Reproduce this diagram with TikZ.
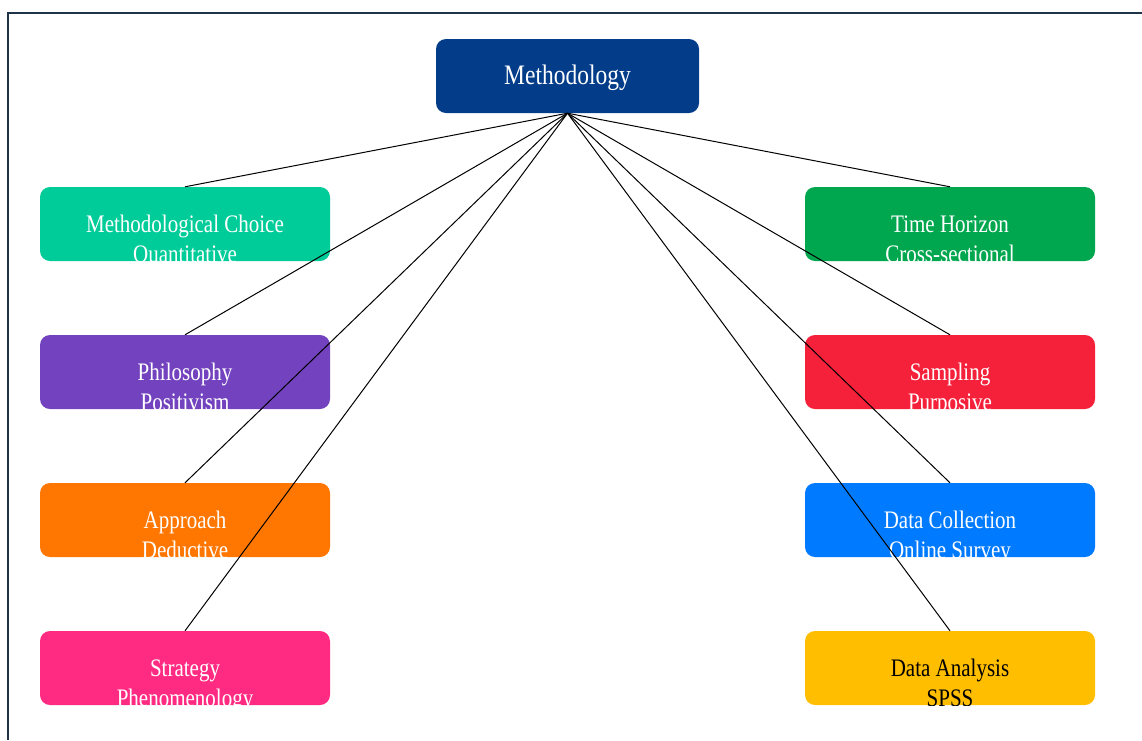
\documentclass[tikz,border=0pt]{standalone}
\usepackage{fontspec}
\setmainfont{Liberation Serif}

\definecolor{frameblue}{HTML}{1F3349}
\definecolor{methblue}{HTML}{033C89}
\definecolor{choiceteal}{HTML}{00CC99}
\definecolor{philpurple}{HTML}{7342BE}
\definecolor{apporange}{HTML}{FF7700}
\definecolor{stratpink}{HTML}{FF2A82}
\definecolor{timegreen}{HTML}{00A74E}
\definecolor{samplered}{HTML}{F5203A}
\definecolor{collectblue}{HTML}{007BFF}
\definecolor{analysisyellow}{HTML}{FFBE00}

% text a little taller than wide, as in the screenshot
\newcommand{\tall}[1]{\scalebox{1}[1.2]{#1}}

\tikzset{
  box/.style={rounded corners=10pt, minimum width=290pt, minimum height=74pt, inner sep=0pt},
  boxtext/.style n args={3}{path picture={
    \node[text=#3, anchor=base, font=\fontsize{21}{25}\selectfont]
      at ([yshift=-8pt]path picture bounding box.center) {\tall{#1}};
    \node[text=#3, anchor=base, font=\fontsize{21}{25}\selectfont]
      at ([yshift=-38pt]path picture bounding box.center) {\tall{#2}};}},
}

\begin{document}
\begin{tikzpicture}[x=1pt,y=-1pt]

	\useasboundingbox (0,0) rectangle (1142,740);
	\draw[frameblue, line width=1.5pt] (8,740) -- (8,13) -- (1142,13);

	% top
	\node[box, minimum width=263pt, fill=methblue,
	      path picture={\node[text=white, anchor=base, font=\fontsize{23.5}{28}\selectfont]
	      at ([yshift=-8pt]path picture bounding box.center) {\tall{Methodology}};}]
	      (meth) at (567.5,76) {};

	% left column
	\node[box, fill=choiceteal, boxtext={Methodological Choice}{Quantitative}{white}] (choice) at (185,224) {};
	\node[box, fill=philpurple, boxtext={Philosophy}{Positivism}{white}] (phil) at (185,372) {};
	\node[box, fill=apporange, boxtext={Approach}{Deductive}{white}] (approach) at (185,520) {};
	\node[box, fill=stratpink, boxtext={Strategy}{Phenomenology}{white}] (strategy) at (185,668) {};

	% right column
	\node[box, fill=timegreen, boxtext={Time Horizon}{Cross-sectional}{white}] (time) at (950,224) {};
	\node[box, fill=samplered, boxtext={Sampling}{Purposive}{white}] (sampling) at (950,372) {};
	\node[box, fill=collectblue, boxtext={Data Collection}{Online Survey}{white}] (collection) at (950,520) {};
	\node[box, fill=analysisyellow, boxtext={Data Analysis}{SPSS}{black}] (analysis) at (950,668) {};

	% links
	\foreach \n in {choice,phil,approach,strategy,time,sampling,collection,analysis}
		\draw[line width=1pt] (meth.south) -- (\n.north);

\end{tikzpicture}
\end{document}
